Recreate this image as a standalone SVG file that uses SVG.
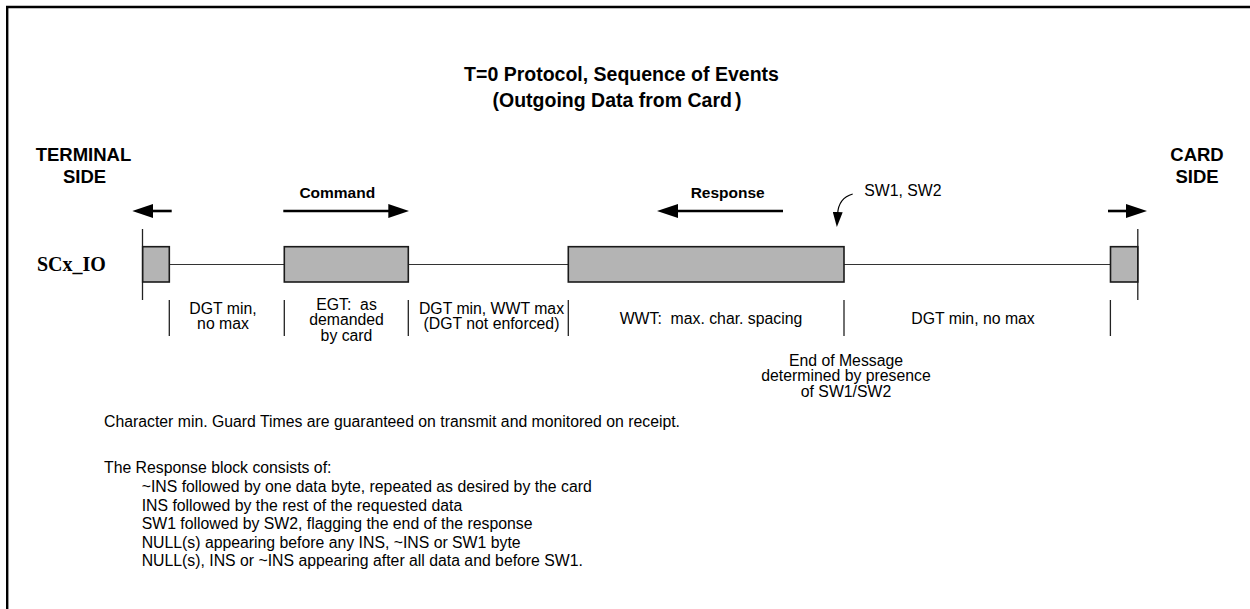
<svg xmlns="http://www.w3.org/2000/svg" width="1250" height="609" viewBox="0 0 1250 609">
<style>
  .bg { fill: #ffffff; }
  .frame { stroke: #000; stroke-width: 2.4; fill: none; }
  .title { font-family: "Liberation Sans", Arial, sans-serif; font-weight: bold; font-size: 19.5px; fill: #000; text-anchor: middle; }
  .side { font-family: "Liberation Sans", Arial, sans-serif; font-weight: bold; font-size: 18.5px; fill: #000; text-anchor: middle; }
  .dir { font-family: "Liberation Sans", Arial, sans-serif; font-weight: bold; font-size: 15.5px; fill: #000; text-anchor: middle; }
  .sig { font-family: "Liberation Serif", "Times New Roman", serif; font-weight: bold; font-size: 20px; fill: #000; }
  .lbl { font-family: "Liberation Sans", Arial, sans-serif; font-size: 15.8px; fill: #000; text-anchor: middle; white-space: pre; }
  .note { font-family: "Liberation Sans", Arial, sans-serif; font-size: 15.8px; fill: #000; }
  .block { fill: #b4b4b4; stroke: #1a1a1a; stroke-width: 1.6; }
  .wire { stroke: #333; stroke-width: 1.2; fill: none; }
  .edge { stroke: #222; stroke-width: 1.3; fill: none; }
  .tick { stroke: #222; stroke-width: 1.3; fill: none; }
  .arrow { stroke: #000; stroke-width: 2.6; fill: none; marker-end: url(#head); }
  .pointer { stroke: #000; stroke-width: 1.2; fill: none; marker-end: url(#headSmall); }
</style>
<defs>
  <marker id="head" viewBox="0 0 21 14" refX="12" refY="7" markerWidth="21" markerHeight="14" markerUnits="userSpaceOnUse" orient="auto">
    <path d="M0,0 L21,7 L0,14 z" fill="#000"/>
  </marker>
  <marker id="headSmall" viewBox="0 0 15 10" refX="2" refY="5" markerWidth="15" markerHeight="10" markerUnits="userSpaceOnUse" orient="auto">
    <path d="M0,0 L15,5 L0,10 z" fill="#000"/>
  </marker>
</defs>
<rect class="bg" x="0" y="0" width="1250" height="609"/>
<path class="frame" d="M7.2,609 V7 H1250"/>

<g id="title">
  <text class="title" x="621.5" y="81">T=0 Protocol, Sequence of Events</text>
  <text class="title" x="617" y="106.5">(Outgoing Data from Card<tspan dx="3">)</tspan></text>
</g>

<g id="terminal-side">
  <text class="side" x="83.5" y="161">TERMINAL</text>
  <text class="side" x="84.5" y="183">SIDE</text>
</g>
<g id="card-side">
  <text class="side" x="1197" y="161">CARD</text>
  <text class="side" x="1197" y="183">SIDE</text>
</g>

<g id="signal-label">
  <text class="sig" x="37" y="271">SCx_IO</text>
</g>

<g id="connectors">
  <line class="wire" x1="169.3" y1="264.5" x2="284.3" y2="264.5"/>
  <line class="wire" x1="408.3" y1="264.5" x2="568.3" y2="264.5"/>
  <line class="wire" x1="844" y1="264.5" x2="1110.5" y2="264.5"/>
  <line class="edge" x1="142.5" y1="229" x2="142.5" y2="300"/>
  <line class="edge" x1="1137.8" y1="229" x2="1137.8" y2="300"/>
  <line class="arrow" x1="171.7" y1="211" x2="141.3" y2="211"/>
  <line class="arrow" x1="283.3" y1="211" x2="400.3" y2="211"/>
  <line class="arrow" x1="783" y1="211" x2="666" y2="211"/>
  <line class="arrow" x1="1108" y1="211" x2="1138" y2="211"/>
  <path class="pointer" d="M852.7,194 Q838.5,198 837.6,214"/>
  <line class="tick" x1="169.3" y1="300" x2="169.3" y2="336"/>
  <line class="tick" x1="284.3" y1="300" x2="284.3" y2="336"/>
  <line class="tick" x1="408.3" y1="300" x2="408.3" y2="336"/>
  <line class="tick" x1="568.3" y1="300" x2="568.3" y2="336"/>
  <line class="tick" x1="844" y1="300" x2="844" y2="336"/>
  <line class="tick" x1="1110.4" y1="300" x2="1110.4" y2="336"/>
</g>

<g id="start-char">
  <rect class="block" x="142.7" y="246.7" width="26.6" height="35.3"/>
</g>
<g id="command-block">
  <rect class="block" x="284.3" y="246.7" width="124" height="35.3"/>
</g>
<g id="response-block">
  <rect class="block" x="568.3" y="246.7" width="275.7" height="35.3"/>
</g>
<g id="end-char">
  <rect class="block" x="1110.5" y="246.7" width="27.3" height="35.3"/>
</g>

<g id="direction-labels">
  <text class="dir" x="337.3" y="198.3">Command</text>
  <text class="dir" x="727.7" y="198.3">Response</text>
  <text class="note" x="864.3" y="196">SW1, SW2</text>
</g>

<g id="interval-labels">
  <text class="lbl" x="223" y="314">DGT min,</text>
  <text class="lbl" x="223" y="329.3">no max</text>
  <text class="lbl" x="346.5" y="310">EGT:  as</text>
  <text class="lbl" x="346.5" y="325.3">demanded</text>
  <text class="lbl" x="346.5" y="340.6">by card</text>
  <text class="lbl" x="491.5" y="314">DGT min, WWT max</text>
  <text class="lbl" x="491.5" y="329.3">(DGT not enforced)</text>
  <text class="lbl" x="711" y="324">WWT:  max. char. spacing</text>
  <text class="lbl" x="973" y="324">DGT min, no max</text>
  <text class="lbl" x="846" y="365.7">End of Message</text>
  <text class="lbl" x="846" y="381.3">determined by presence</text>
  <text class="lbl" x="846" y="397">of SW1/SW2</text>
</g>

<g id="notes">
  <text class="note" x="104" y="426.5">Character min. Guard Times are guaranteed on transmit and monitored on receipt.</text>
  <text class="note" x="104" y="473.3">The Response block consists of:</text>
  <text class="note" x="141.7" y="492">~INS followed by one data byte, repeated as desired by the card</text>
  <text class="note" x="141.7" y="510.5">INS followed by the rest of the requested data</text>
  <text class="note" x="141.7" y="529">SW1 followed by SW2, flagging the end of the response</text>
  <text class="note" x="141.7" y="547.5">NULL(s) appearing before any INS, ~INS or SW1 byte</text>
  <text class="note" x="141.7" y="566">NULL(s), INS or ~INS appearing after all data and before SW1.</text>
</g>
</svg>
